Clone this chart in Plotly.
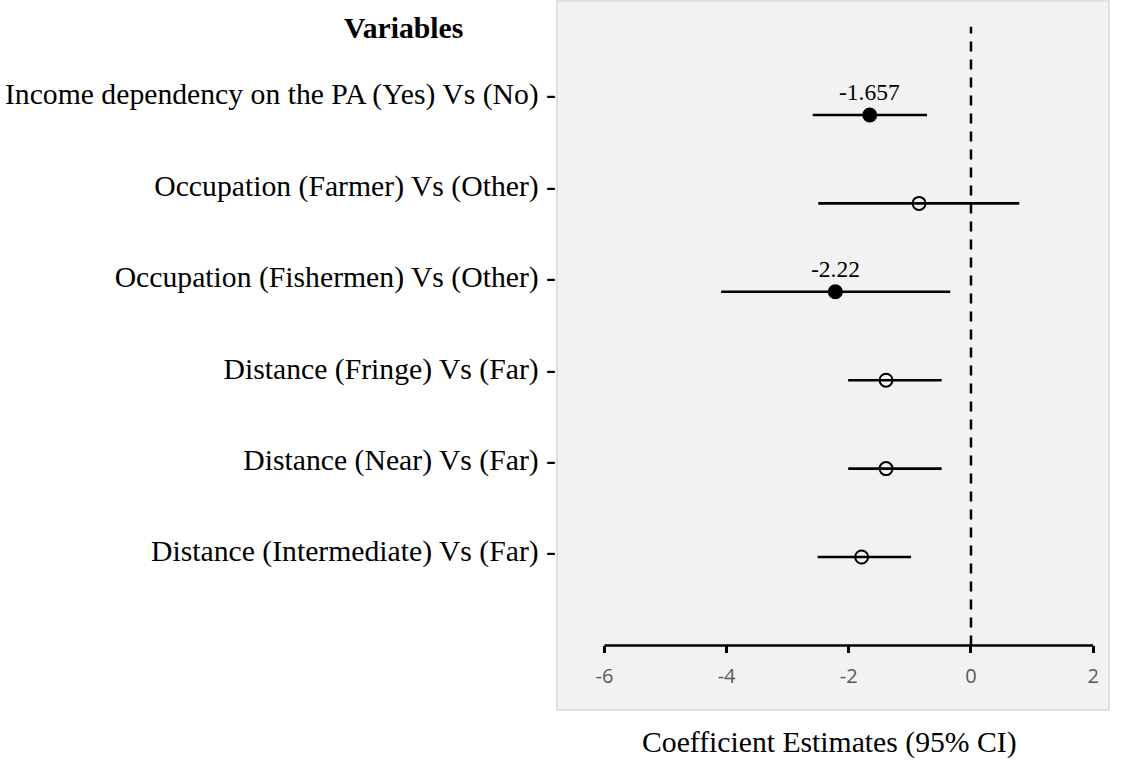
import plotly.graph_objects as go

labels = [
    "Income dependency on the PA (Yes) Vs (No)",
    "Occupation (Farmer) Vs (Other)",
    "Occupation (Fishermen) Vs (Other)",
    "Distance (Fringe) Vs (Far)",
    "Distance (Near) Vs (Far)",
    "Distance (Intermediate) Vs (Far)",
]
estimate = [-1.657, -0.85, -2.22, -1.39, -1.39, -1.79]
ci_low = [-2.59, -2.50, -4.09, -2.01, -2.01, -2.51]
ci_high = [-0.72, 0.79, -0.34, -0.48, -0.48, -0.98]
significant = [True, False, True, False, False, False]
value_labels = ["-1.657", "", "-2.22", "", "", ""]
x_ticks = [-6, -4, -2, 0, 2]

n = len(labels)
pos = [n - i for i in range(n)]  # top row = n

SERIF = "Liberation Serif, Times New Roman, serif"
BIG = 29.7

fig = go.Figure()

for flag in (True, False):
    idx = [i for i in range(n) if significant[i] == flag]
    fig.add_trace(go.Scatter(
        x=[estimate[i] for i in idx],
        y=[pos[i] for i in idx],
        mode="markers",
        marker=dict(
            symbol="circle" if flag else "circle-open",
            size=15 if flag else 13,
            color="black",
            line=dict(width=0 if flag else 2, color="black"),
        ),
        error_x=dict(
            type="data", symmetric=False,
            array=[ci_high[i] - estimate[i] for i in idx],
            arrayminus=[estimate[i] - ci_low[i] for i in idx],
            thickness=2.6, width=0, color="black",
        ),
        showlegend=False,
        hoverinfo="skip",
    ))

# carrier trace so the label axis is drawn (invisible)
fig.add_trace(go.Scatter(
    x=estimate, y=pos, yaxis="y2", mode="markers",
    marker=dict(opacity=0, size=1), showlegend=False, hoverinfo="skip",
))

# value labels
for i in range(n):
    if value_labels[i]:
        fig.add_annotation(
            x=estimate[i], y=pos[i], text=value_labels[i], showarrow=False,
            yshift=23, yanchor="middle", xanchor="center",
            font=dict(family=SERIF, size=23.5, color="black"),
        )

# dashed zero line and axis line
fig.add_shape(type="line", x0=0, x1=0, y0=0, y1=n + 1, xref="x", yref="y",
              line=dict(color="black", width=2.5, dash="10px,8px"))
fig.add_shape(type="line", x0=x_ticks[0], x1=x_ticks[-1], y0=0, y1=0, xref="x", yref="y",
              line=dict(color="black", width=2.5))
# panel border
fig.add_shape(type="rect", x0=0, x1=1, y0=0, y1=1, xref="paper", yref="paper",
              line=dict(color="#d9d9d9", width=1.5), layer="below")

fig.add_annotation(x=-0.2772, y=0.9619, xref="paper", yref="paper", text="<b>Variables</b>",
                   showarrow=False, xanchor="center", yanchor="middle",
                   font=dict(family=SERIF, size=BIG, color="black"))
fig.add_annotation(x=0.4928, y=-0.0465, xref="paper", yref="paper",
                   text="Coefficient Estimates (95% CI)",
                   showarrow=False, xanchor="center", yanchor="middle",
                   font=dict(family=SERIF, size=BIG, color="black"))

fig.update_layout(
    width=1121, height=760,
    margin=dict(l=557, r=12, t=1, b=50),
    paper_bgcolor="white",
    plot_bgcolor="#f2f2f2",
    xaxis=dict(
        range=[-6.776, 2.259], anchor="free", position=0.0911,
        tickvals=x_ticks, ticktext=[str(t) for t in x_ticks],
        ticks="outside", ticklen=7, tickwidth=2.5, tickcolor="black",
        ticklabelstandoff=6,
        showline=False, showgrid=False, zeroline=False,
        tickfont=dict(family="Open Sans, sans-serif", size=20, color="#595959"),
    ),
    yaxis=dict(
        range=[-0.731, 7.29], showticklabels=False, ticks="",
        showgrid=False, zeroline=False, showline=False,
    ),
    yaxis2=dict(
        range=[-0.74, 7.017], overlaying="y", side="left",
        tickvals=pos, ticktext=[l + " -" for l in labels],
        ticks="", showgrid=False, zeroline=False, showline=False,
        tickfont=dict(family=SERIF, size=BIG, color="black"),
    ),
)

fig.write_html("out.html", config={"displayModeBar": False},
               post_script="document.body.style.margin='0';")
